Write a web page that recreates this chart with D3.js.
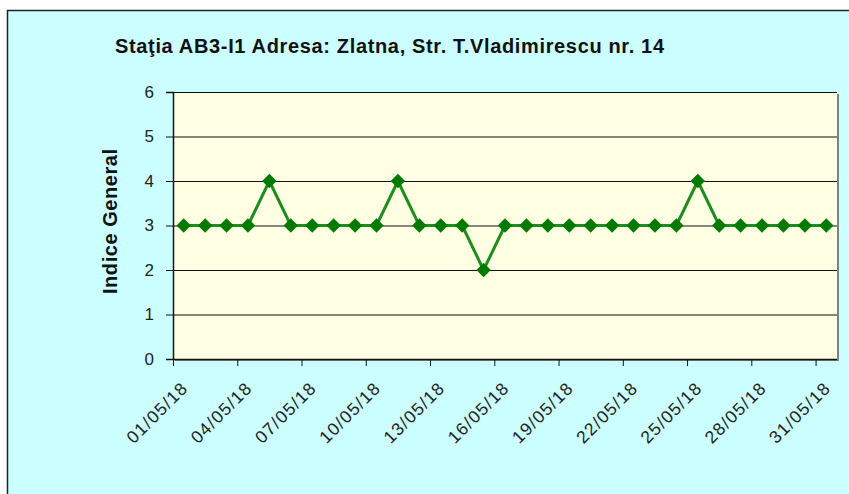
<!DOCTYPE html>
<html>
<head>
<meta charset="utf-8">
<script src="https://cdn.jsdelivr.net/npm/d3@7"></script>
<style>
  body { margin: 0; background: #fff; }
  svg { display: block; font-family: Arial, "Liberation Sans", sans-serif; }
</style>
</head>
<body>
<div id="chart"></div>
<script>
  // chart data
  var dates = ['01/05/18','02/05/18','03/05/18','04/05/18','05/05/18','06/05/18','07/05/18','08/05/18',
    '09/05/18','10/05/18','11/05/18','12/05/18','13/05/18','14/05/18','15/05/18','16/05/18',
    '17/05/18','18/05/18','19/05/18','20/05/18','21/05/18','22/05/18','23/05/18','24/05/18',
    '25/05/18','26/05/18','27/05/18','28/05/18','29/05/18','30/05/18','31/05/18'];
  var values = [3,3,3,3,4,3,3,3,3,3,4,3,3,3,2,3,3,3,3,3,3,3,3,3,4,3,3,3,3,3,3];
  var yTicks = [0,1,2,3,4,5,6];
  var title = 'Staţia AB3-I1 Adresa: Zlatna, Str. T.Vladimirescu nr. 14';
  var yLabel = 'Indice General';

  var W = 849, H = 494;
  var margin = {top: 92, left: 173};
  var width = 837 - margin.left, height = 359 - margin.top;

  var svg = d3.select('#chart').append('svg').attr('width', W).attr('height', H);

  // outer chart area
  svg.append('rect').attr('x', 0).attr('y', 0).attr('width', W).attr('height', H).attr('fill', '#fff');
  svg.append('rect').attr('x', 7.5).attr('y', 10.5).attr('width', W + 10).attr('height', H + 10)
    .attr('fill', '#CCFFFF').attr('stroke', '#222').attr('stroke-width', 1.5);

  svg.append('text').attr('x', 115).attr('y', 53)
    .attr('font-size', 20).attr('font-weight', 'bold').attr('fill', '#111')
    .attr('textLength', 549).attr('lengthAdjust', 'spacing')
    .text(title);

  var x = d3.scaleBand().domain(dates).range([0, width]).paddingInner(0).paddingOuter(0);
  var y = d3.scaleLinear().domain([0, 6]).range([height, 0]);

  var g = svg.append('g').attr('transform', 'translate(' + margin.left + ',' + margin.top + ')');

  // plot area with shadow
  g.append('rect').attr('x', 2).attr('y', 2).attr('width', width).attr('height', height).attr('fill', '#808080');
  g.append('rect').attr('width', width).attr('height', height).attr('fill', '#FFFFE3');

  // gridlines
  g.selectAll('.grid').data(yTicks.slice(1)).enter().append('line')
    .attr('x1', 0).attr('x2', width)
    .attr('y1', function(d) { return y(d) + 0.5; }).attr('y2', function(d) { return y(d) + 0.5; })
    .attr('stroke', '#111').attr('stroke-width', 1);

  // y axis
  var yAxis = d3.axisLeft(y).tickValues(yTicks).tickSize(7).tickPadding(12).tickFormat(d3.format('d'));
  var ya = g.append('g').call(yAxis);
  ya.select('.domain').attr('stroke', '#111').attr('stroke-width', 1.5);
  ya.selectAll('.tick line').attr('stroke', '#111');
  ya.selectAll('text').attr('font-size', 17).attr('fill', '#222').attr('font-family', 'Arial, "Liberation Sans", sans-serif');

  // x axis: ticks at category boundaries every 3 days, labels centered on categories
  var bw = x.bandwidth();
  var xa = g.append('g').attr('transform', 'translate(0,' + height + ')');
  xa.append('line').attr('x1', 0).attr('x2', width).attr('y1', 0.5).attr('y2', 0.5)
    .attr('stroke', '#111').attr('stroke-width', 1.5);
  var tickIdx = d3.range(0, dates.length, 3);
  xa.selectAll('.xt').data(tickIdx).enter().append('line')
    .attr('x1', function(i) { return x(dates[i]) + 0.5; }).attr('x2', function(i) { return x(dates[i]) + 0.5; })
    .attr('y1', 0).attr('y2', 7).attr('stroke', '#111');
  xa.selectAll('.xl').data(tickIdx).enter().append('text')
    .attr('transform', function(i) {
      return 'translate(' + (x(dates[i]) + bw / 2 + 4.5) + ',31) rotate(-45)';
    })
    .attr('text-anchor', 'end').attr('font-size', 17.5).attr('fill', '#222')
    .attr('textLength', 77).attr('lengthAdjust', 'spacing')
    .text(function(i) { return dates[i]; });

  // y label
  svg.append('text').attr('transform', 'translate(117,' + (margin.top + height / 2 - 4) + ') rotate(-90)')
    .attr('text-anchor', 'middle').attr('font-size', 20).attr('font-weight', 'bold').attr('fill', '#111')
    .attr('textLength', 145).attr('lengthAdjust', 'spacing')
    .text(yLabel);

  // series line
  var line = d3.line()
    .x(function(d, i) { return x(dates[i]) + bw / 2; })
    .y(function(d) { return y(d); });
  g.append('path').datum(values).attr('d', line)
    .attr('fill', 'none').attr('stroke', '#1E8C1E').attr('stroke-width', 3);

  var marker = d3.symbol().type(d3.symbolSquare).size(104);
  g.selectAll('.pt').data(values).enter().append('path')
    .attr('d', marker)
    .attr('transform', function(d, i) { return 'translate(' + (x(dates[i]) + bw / 2) + ',' + y(d) + ') rotate(45)'; })
    .attr('fill', '#007A00');
</script>
</body>
</html>
